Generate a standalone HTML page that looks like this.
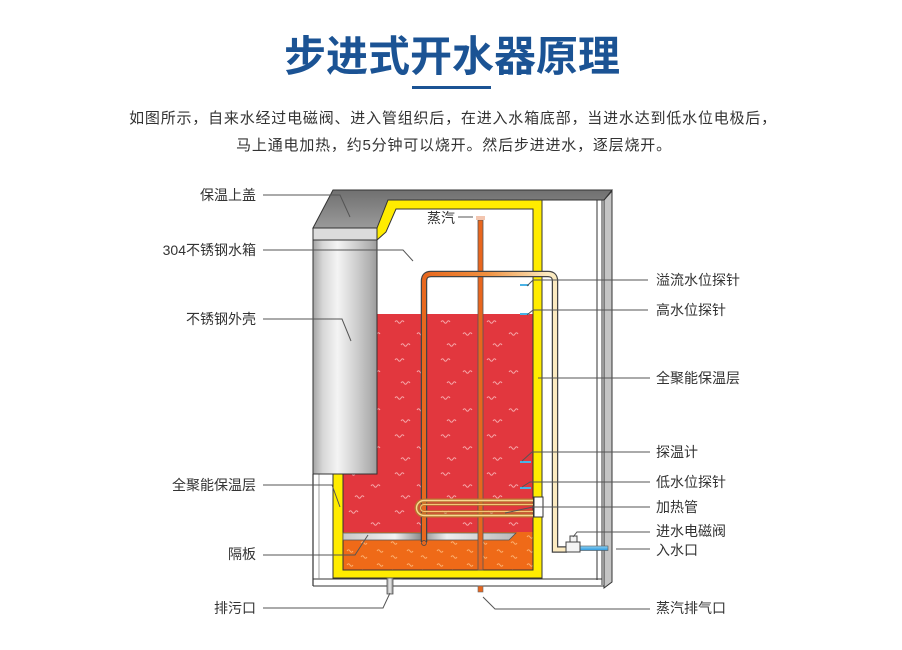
<!DOCTYPE html>
<html>
<head>
<meta charset="utf-8">
<style>
  html,body{margin:0;padding:0;background:#fff;}
  svg{display:block;}
  .lbl{font-family:"Liberation Sans","Noto Sans CJK SC",sans-serif;font-size:14px;fill:#333;}
  .ld{fill:none;stroke:#555;stroke-width:1;}
</style>
</head>
<body>
<svg width="902" height="650" viewBox="0 0 902 650" xmlns="http://www.w3.org/2000/svg">
  <defs>
    <linearGradient id="cyl" x1="0" y1="0" x2="1" y2="0">
      <stop offset="0" stop-color="#a4a4a4"/>
      <stop offset="0.15" stop-color="#d6d6d6"/>
      <stop offset="0.38" stop-color="#f4f4f4"/>
      <stop offset="0.65" stop-color="#d2d2d2"/>
      <stop offset="0.88" stop-color="#b2b2b2"/>
      <stop offset="1" stop-color="#9c9c9c"/>
    </linearGradient>
    <linearGradient id="lid" x1="0" y1="0" x2="0" y2="1">
      <stop offset="0" stop-color="#707070"/>
      <stop offset="1" stop-color="#9a9a9a"/>
    </linearGradient>
    <linearGradient id="div" x1="0" y1="0" x2="1" y2="0">
      <stop offset="0" stop-color="#c8c8c8"/>
      <stop offset="0.3" stop-color="#f2f2f2"/>
      <stop offset="0.45" stop-color="#8c8c8c"/>
      <stop offset="0.6" stop-color="#eeeeee"/>
      <stop offset="1" stop-color="#b8b8b8"/>
    </linearGradient>
    <linearGradient id="pipe" gradientUnits="userSpaceOnUse" x1="425" y1="0" x2="548" y2="0">
      <stop offset="0" stop-color="#e8681e"/>
      <stop offset="0.5" stop-color="#f09040"/>
      <stop offset="1" stop-color="#fbeac0"/>
    </linearGradient>
    <linearGradient id="blue" x1="0" y1="0" x2="0" y2="1">
      <stop offset="0" stop-color="#8fd4f5"/>
      <stop offset="1" stop-color="#2a96dc"/>
    </linearGradient>
    <linearGradient id="drain" x1="0" y1="0" x2="1" y2="0">
      <stop offset="0" stop-color="#999"/>
      <stop offset="0.5" stop-color="#eee"/>
      <stop offset="1" stop-color="#888"/>
    </linearGradient>
    <pattern id="bubR" width="46" height="38" patternUnits="userSpaceOnUse" x="343" y="314">
      <path d="M6 8 q1.5 -2.5 3 0 q1.5 2.5 3 0 q1.5 -2.5 3 0" stroke="#f6a8aa" fill="none" stroke-width="1"/>
      <path d="M28 20 q1.5 -2.5 3 0 q1.5 2.5 3 0 q1.5 -2.5 3 0" stroke="#f6a8aa" fill="none" stroke-width="1"/>
      <path d="M12 31 q1.5 -2.5 3 0 q1.5 2.5 3 0 q1.5 -2.5 3 0" stroke="#f6a8aa" fill="none" stroke-width="1"/>
    </pattern>
    <pattern id="bubO" width="30" height="14" patternUnits="userSpaceOnUse" x="343" y="532">
      <path d="M4 5 q1.5 -2.5 3 0 q1.5 2.5 3 0" stroke="#fbb070" fill="none" stroke-width="1"/>
      <path d="M18 11 q1.5 -2.5 3 0 q1.5 2.5 3 0" stroke="#fbb070" fill="none" stroke-width="1"/>
    </pattern>
  </defs>

  <rect x="0" y="0" width="902" height="650" fill="#fff"/>

  <!-- Title -->
  <text x="452" y="71" text-anchor="middle" font-family="'Liberation Sans','Noto Sans CJK SC',sans-serif" font-size="42" font-weight="700" fill="#1b5394">步进式开水器原理</text>
  <rect x="412" y="86" width="79" height="3" fill="#1b5394"/>

  <!-- Paragraph -->
  <text x="453" y="123" text-anchor="middle" font-family="'Liberation Sans','Noto Sans CJK SC',sans-serif" font-size="15" letter-spacing="0.8" fill="#333">如图所示，自来水经过电磁阀、进入管组织后，在进入水箱底部，当进水达到低水位电极后，</text>
  <text x="454" y="150" text-anchor="middle" font-family="'Liberation Sans','Noto Sans CJK SC',sans-serif" font-size="15" letter-spacing="0.8" fill="#333">马上通电加热，约5分钟可以烧开。然后步进进水，逐层烧开。</text>

  <!-- Outer frame -->
  <line x1="597" y1="200" x2="597" y2="580" stroke="#333" stroke-width="1"/>
  <line x1="602" y1="200" x2="602" y2="585" stroke="#333" stroke-width="1"/>
  <polygon points="604,200 612,191 612,582 604,588" fill="#c4c4c4" stroke="#333" stroke-width="1"/>
  <line x1="313" y1="579" x2="602" y2="579" stroke="#333" stroke-width="1"/>
  <line x1="313" y1="586" x2="604" y2="586" stroke="#333" stroke-width="1"/>
  <line x1="313" y1="474" x2="313" y2="586" stroke="#333" stroke-width="1.2"/>
  <line x1="319" y1="474" x2="319" y2="579" stroke="#888" stroke-width="0.8"/>

  <!-- Yellow insulation -->
  <rect x="333" y="200" width="209" height="378" fill="#ffec00" stroke="#333" stroke-width="1"/>
  <!-- Tank interior -->
  <polygon points="396,209 533,209 533,570 343,570 343,474 377,474 377,240 386,232" fill="#fff" stroke="#333" stroke-width="1"/>
  <!-- Red water -->
  <rect x="343" y="314" width="190" height="219" fill="#e2373e"/>
  <rect x="343" y="314" width="190" height="219" fill="url(#bubR)"/>
  <!-- Orange water -->
  <rect x="343" y="532" width="190" height="38" fill="#ef6a18"/>
  <rect x="343" y="532" width="190" height="38" fill="url(#bubO)"/>
  <polyline points="343,474 343,570 533,570 533,209" fill="none" stroke="#333" stroke-width="1"/>

  <!-- Divider plate -->
  <polygon points="343,533 516,533 509,540 343,540" fill="url(#div)" stroke="#555" stroke-width="0.8"/>

  <!-- Steam pipe -->
  <rect x="478" y="220" width="5" height="350" fill="#e8661e" stroke="#555" stroke-width="0.8"/>
  <rect x="476" y="216" width="9" height="4" fill="#f3c6b0"/>

  <!-- Overflow pipe -->
  <path d="M424 542 V281 Q424 274 431 274 H548 Q555 274 555 281 V549.5 H567" fill="none" stroke="#444" stroke-width="6.5"/>
  <path d="M424 542 V281 Q424 274 431 274 H548 Q555 274 555 281 V549.5 H567" fill="none" stroke="url(#pipe)" stroke-width="4"/>
  <circle cx="424" cy="543" r="2.5" fill="#e8681e" stroke="#444" stroke-width="0.8"/>

  <!-- Heater -->
  <path d="M533 500.5 H424 A7.5 7.5 0 0 0 424 515.5 H533" fill="none" stroke="#b8742e" stroke-width="4"/>
  <path d="M533 500.5 H424 A7.5 7.5 0 0 0 424 515.5 H533" fill="none" stroke="#f8d890" stroke-width="1.4"/>
  <path d="M533 504.5 H424 A3.5 3.5 0 0 0 424 511.5 H533" fill="none" stroke="#b8742e" stroke-width="2.6"/>
  <path d="M533 504.5 H424 A3.5 3.5 0 0 0 424 511.5 H533" fill="none" stroke="#f3c878" stroke-width="0.9"/>
  <rect x="534" y="497" width="9" height="20" fill="#fff" stroke="#333" stroke-width="1"/>

  <!-- Probes -->
  <rect x="520" y="284" width="9" height="2" fill="#4ab3e6"/>
  <rect x="520" y="313" width="9" height="2" fill="#4ab3e6"/>
  <rect x="520" y="461" width="11" height="2" fill="#4ab3e6"/>
  <rect x="520" y="487" width="11" height="2" fill="#4ab3e6"/>

  <!-- Stainless cylinder shell -->
  <rect x="313" y="228" width="64" height="246" fill="url(#cyl)" stroke="#333" stroke-width="1"/>
  <rect x="313" y="228" width="64" height="12" fill="#dcdcdc" stroke="#333" stroke-width="1"/>
  <!-- Lid -->
  <polygon points="333,190 612,190 604,200 388,200 377,228 313,228" fill="url(#lid)" stroke="#333" stroke-width="1"/>
  <line x1="388" y1="200" x2="604" y2="200" stroke="#333" stroke-width="1"/>

  <!-- Valve & inlet -->
  <rect x="580" y="546" width="28" height="4.5" fill="url(#blue)" stroke="#555" stroke-width="0.6"/>
  <rect x="566" y="542" width="14" height="10" fill="#f4f4f4" stroke="#444" stroke-width="1"/>
  <rect x="570" y="536" width="7" height="6" fill="#f4f4f4" stroke="#444" stroke-width="1"/>

  <!-- Drain & steam outlet -->
  <rect x="387" y="578" width="6" height="16" fill="url(#drain)" stroke="#555" stroke-width="0.8"/>
  <rect x="478" y="586" width="5" height="6" fill="#e8661e" stroke="#666" stroke-width="0.6"/>

  <!-- Steam label -->
  <text x="427" y="223" class="lbl">蒸汽</text>
  <line x1="458" y1="217" x2="473" y2="217" stroke="#555" stroke-width="1"/>

  <!-- Left leaders -->
  <path class="ld" d="M263 195 H340 L350 217"/>
  <path class="ld" d="M263 250 H403 L413 261"/>
  <path class="ld" d="M263 319 H342 L351 341"/>
  <path class="ld" d="M263 485 H332 L340 507"/>
  <path class="ld" d="M263 555 H355 L368 535"/>
  <path class="ld" d="M263 608 H383 L390 593"/>

  <text x="256" y="200" text-anchor="end" class="lbl">保温上盖</text>
  <text x="256" y="255" text-anchor="end" class="lbl">304不锈钢水箱</text>
  <text x="256" y="324" text-anchor="end" class="lbl">不锈钢外壳</text>
  <text x="256" y="490" text-anchor="end" class="lbl">全聚能保温层</text>
  <text x="256" y="559" text-anchor="end" class="lbl">隔板</text>
  <text x="256" y="613" text-anchor="end" class="lbl">排污口</text>

  <!-- Right leaders -->
  <path class="ld" d="M527 286 L533 280 H648"/>
  <path class="ld" d="M527 315 L533 310 H648"/>
  <path class="ld" d="M538 378 H650"/>
  <path class="ld" d="M522 461 L532 452 H650"/>
  <path class="ld" d="M522 487 L530 482 H650"/>
  <path class="ld" d="M505 513 L533 507 H650"/>
  <path class="ld" d="M573 537 L577 532 H650"/>
  <path class="ld" d="M616 549 H650"/>
  <path class="ld" d="M483 597 L495 609 H650"/>

  <text x="656" y="285" class="lbl">溢流水位探针</text>
  <text x="656" y="315" class="lbl">高水位探针</text>
  <text x="656" y="383" class="lbl">全聚能保温层</text>
  <text x="656" y="457" class="lbl">探温计</text>
  <text x="656" y="487" class="lbl">低水位探针</text>
  <text x="656" y="512" class="lbl">加热管</text>
  <text x="656" y="536" class="lbl">进水电磁阀</text>
  <text x="656" y="555" class="lbl">入水口</text>
  <text x="656" y="613" class="lbl">蒸汽排气口</text>
</svg>
</body>
</html>
